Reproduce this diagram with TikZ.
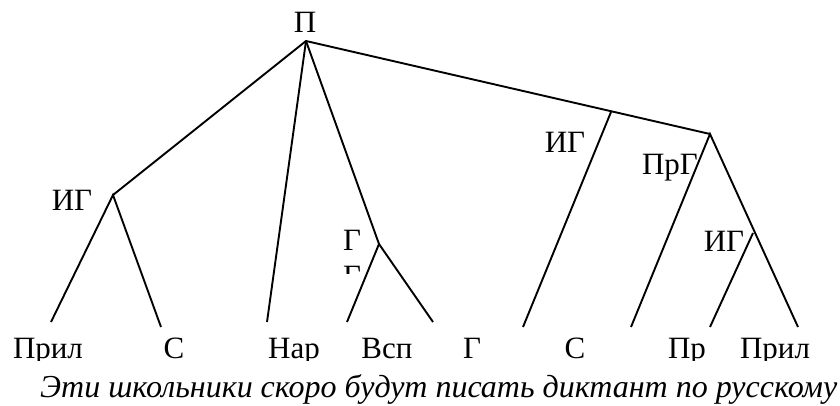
\documentclass[tikz,border=0pt]{standalone}
\usepackage{fontspec}
\setmainfont{Liberation Serif}
\usetikzlibrary{positioning}

\begin{document}
\begin{tikzpicture}[
  x=1pt,y=-1pt,
  lbl/.style={inner sep=0pt,anchor=base,font=\fontsize{31}{37}\selectfont},
  edge/.style={line width=1.9pt}
]
  \useasboundingbox (0,0) rectangle (840,406);
  % Branch points
  \coordinate (root) at (306,41);
  \coordinate (igl) at (113,195);
  \coordinate (gv) at (379,244);
  \coordinate (igm) at (611,112);
  \coordinate (prg) at (710,134);
  \coordinate (igr) at (753,233);
  % Leaf ends
  \coordinate (l1) at (51,322);
  \coordinate (l2) at (161,327);
  \coordinate (l3) at (267,322);
  \coordinate (l4) at (347,322);
  \coordinate (l5) at (433,322);
  \coordinate (l6) at (523,327);
  \coordinate (l7) at (631,327);
  \coordinate (l8) at (710,327);
  \coordinate (l9) at (798,327);
  % Node labels
  \node[lbl] (tP) at (305,33) {П};
  \node[lbl] (tIGl) at (72,210) {ИГ};
  \node[lbl] (tIGm) at (565,153) {ИГ};
  \node[lbl] (tPrG) at (670,175) {ПрГ};
  \node[lbl] (tIGr) at (724,251) {ИГ};
  \node[lbl] (tG) at (352,250) {Г};
  \begin{scope}
    \clip (330,255) rectangle (375,273);
    \node[lbl] (tGg) at (352,286) {Г};
  \end{scope}
  % Edges
  \draw[edge] (igl) -- (root) -- (prg);
  \draw[edge] (l1) -- (igl) -- (l2);
  \draw[edge] (root) -- (l3);
  \draw[edge] (root) -- (gv);
  \draw[edge] (l4) -- (gv) -- (l5);
  \draw[edge] (igm) -- (l6);
  \draw[edge] (l7) -- (prg) -- (l9);
  \draw[edge] (igr) -- (l8);
  % Words (cut at the bottom)
  \begin{scope}
    \clip (0,0) rectangle (840,360);
    \node[lbl] (wPril) at (48,358) {Прил};
    \node[lbl] (wS) at (174,358) {С};
    \node[lbl] (wNar) at (294,358) {Нар};
    \node[lbl] (wVsp) at (387,358) {Всп};
    \node[lbl] (wG) at (472,358) {Г};
    \node[lbl] (wS2) at (575,358) {С};
    \node[lbl] (wPr) at (687,358) {Пр};
    \node[lbl] (wPril2) at (775,358) {Прил};
  \end{scope}
  % Sentence
  \node[lbl,anchor=base west,font=\fontsize{32}{38}\selectfont\itshape] (sent) at (40,397)
    {Эти школьники скоро будут писать диктант по русскому};
\end{tikzpicture}
\end{document}
